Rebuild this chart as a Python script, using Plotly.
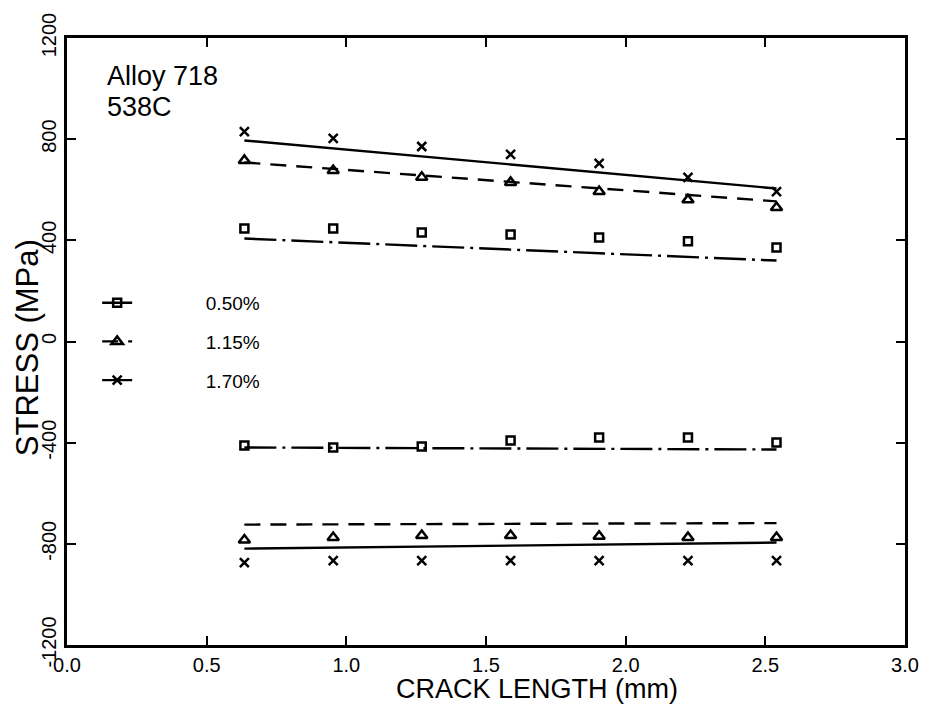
import plotly.graph_objects as go

# ---- data ----
crack_mm = [0.635, 0.953, 1.270, 1.588, 1.905, 2.223, 2.540]

# tensile (upper) branch
t_050 = [447, 447, 431, 423, 411, 396, 372]
t_115 = [716, 676, 649, 629, 593, 560, 530]
t_170 = [830, 803, 771, 740, 704, 649, 593]
# compressive (lower) branch
c_050 = [-411, -419, -415, -391, -380, -380, -399]
c_115 = [-785, -775, -767, -767, -770, -775, -775]
c_170 = [-874, -866, -866, -866, -866, -866, -866]

# fitted lines (end values)
fit_x = [0.635, 2.540]
ft_050 = [407, 320]
ft_115 = [708, 554]
ft_170 = [795, 605]
fc_050 = [-419, -427]
fc_115 = [-724, -718]
fc_170 = [-819, -795]

labels = ["0.50%", "1.15%", "1.70%"]
x_ticks = [0.0, 0.5, 1.0, 1.5, 2.0, 2.5, 3.0]
y_ticks = [-1200, -800, -400, 0, 400, 800, 1200]

FONT = "Liberation Sans"
styles = {
    "0.50%": dict(dash="32px,6px,3px,6px", symbol="square-open", size=8),
    "1.15%": dict(dash="16px,10px", symbol="triangle-up-open", size=10),
    "1.70%": dict(dash="solid", symbol="x-thin-open", size=9),
}

fig = go.Figure()

fits = {"0.50%": (ft_050, fc_050), "1.15%": (ft_115, fc_115), "1.70%": (ft_170, fc_170)}
pts = {"0.50%": (t_050, c_050), "1.15%": (t_115, c_115), "1.70%": (t_170, c_170)}

for lab in labels:
    st = styles[lab]
    for f in fits[lab]:
        fig.add_trace(go.Scatter(x=fit_x, y=f, mode="lines", showlegend=False,
                                 line=dict(color="black", width=2.4, dash=st["dash"])))
    for p in pts[lab]:
        fig.add_trace(go.Scatter(x=crack_mm, y=p, mode="markers", showlegend=False,
                                 marker=dict(symbol=st["symbol"], size=st["size"], color="black",
                                             line=dict(color="black", width=2.5))))
    # legend entry
    fig.add_trace(go.Scatter(x=[None], y=[None], mode="lines+markers",
                             name="\u00a0" * 13 + lab, legendgroup=lab,
                             line=dict(color="black", width=2.4, dash=st["dash"]),
                             marker=dict(symbol=st["symbol"], size=st["size"], color="black",
                                         line=dict(color="black", width=2.5))))

fig.add_annotation(xref="paper", yref="paper", x=0.045, y=0.9374, xanchor="left", yanchor="middle",
                   text="Alloy 718", showarrow=False, align="left",
                   font=dict(family=FONT, size=27, color="black"))
fig.add_annotation(xref="paper", yref="paper", x=0.045, y=0.8863, xanchor="left", yanchor="middle",
                   text="538C", showarrow=False, align="left",
                   font=dict(family=FONT, size=27, color="black"))

# axis titles as annotations (positioned like the reference)
fig.add_annotation(xref="paper", yref="paper", x=0.561, y=-0.101, xanchor="center", yanchor="bottom",
                   text="CRACK LENGTH (mm)", showarrow=False,
                   font=dict(family=FONT, size=27, color="black"))
fig.add_annotation(xref="paper", yref="paper", x=-0.047, y=0.49, xanchor="center", yanchor="middle",
                   text="STRESS (MPa)", showarrow=False, textangle=-90,
                   font=dict(family=FONT, size=31, color="black"))

fig.update_layout(
    width=931, height=708,
    margin=dict(l=67, r=19, t=38, b=63),
    paper_bgcolor="white", plot_bgcolor="white",
    font=dict(family=FONT, color="black"),
    legend=dict(x=0.036, y=0.595, xanchor="left", yanchor="top",
                font=dict(family=FONT, size=19, color="black"),
                bgcolor="rgba(0,0,0,0)", tracegroupgap=11),
    xaxis=dict(range=[0, 3.0], tickvals=x_ticks, ticktext=[f"{v:.1f}" for v in x_ticks],
               ticks="inside", ticklen=9, tickwidth=2, tickcolor="black",
               showline=True, linewidth=2.5, linecolor="black", mirror="ticks",
               showgrid=False, zeroline=False,
               tickfont=dict(family=FONT, size=20, color="black")),
    yaxis=dict(range=[-1200, 1200], tickvals=y_ticks, ticktext=[str(v) for v in y_ticks],
               ticks="inside", ticklen=9, tickwidth=2, tickcolor="black",
               showline=True, linewidth=2.5, linecolor="black", mirror="ticks",
               showgrid=False, zeroline=False, tickangle=-90,
               tickfont=dict(family=FONT, size=20, color="black")),
)

fig.write_html("out.html")
